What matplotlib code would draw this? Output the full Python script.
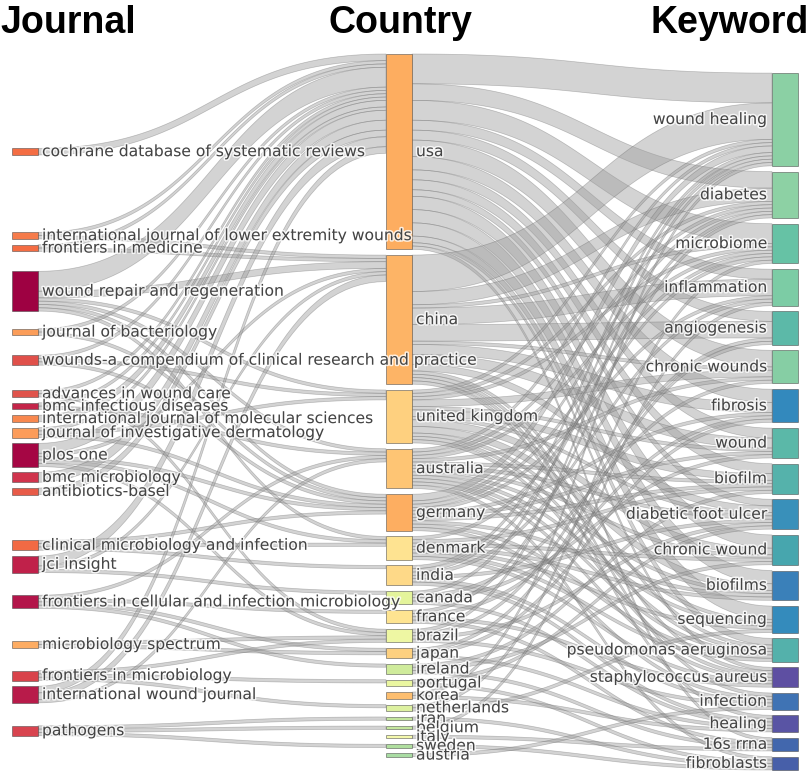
import numpy as np
import matplotlib.pyplot as plt
import matplotlib.patheffects as pe
from matplotlib.patches import Polygon, Rectangle

# ---- nodes ----
journals = [
    "cochrane database of systematic reviews",
    "international journal of lower extremity wounds",
    "frontiers in medicine",
    "wound repair and regeneration",
    "journal of bacteriology",
    "wounds-a compendium of clinical research and practice",
    "advances in wound care",
    "bmc infectious diseases",
    "international journal of molecular sciences",
    "journal of investigative dermatology",
    "plos one",
    "bmc microbiology",
    "antibiotics-basel",
    "clinical microbiology and infection",
    "jci insight",
    "frontiers in cellular and infection microbiology",
    "microbiology spectrum",
    "frontiers in microbiology",
    "international wound journal",
    "pathogens",
]
journal_colors = ["#f46d43", "#f67b4a", "#f46d43", "#9e0142", "#fb9d59", "#e0504a",
                  "#e0534b", "#c42549", "#f8884f", "#fc9c5a", "#a50644", "#d0344d",
                  "#e85b48", "#f26a44", "#c0214a", "#b3154a", "#fdac62", "#d9434b",
                  "#b81b4a", "#d8444f"]

countries = ["usa", "china", "united kingdom", "australia", "germany", "denmark",
             "india", "canada", "france", "brazil", "japan", "ireland", "portugal",
             "korea", "netherlands", "iran", "belgium", "italy", "sweden", "austria"]
country_colors = ["#fdad60", "#fdb466", "#fed07f", "#fec574", "#fdae61", "#fee391",
                  "#fed988", "#e4f49b", "#fee491", "#eef7a3", "#fdd07f", "#cfeb9b",
                  "#eaf6a0", "#fdbe6f", "#ddf1a0", "#c3e69d", "#c5e79e", "#f4f8ac",
                  "#b0df9f", "#a9dca3"]

keywords = ["wound healing", "diabetes", "microbiome", "inflammation", "angiogenesis",
            "chronic wounds", "fibrosis", "wound", "biofilm", "diabetic foot ulcer",
            "chronic wound", "biofilms", "sequencing", "pseudomonas aeruginosa",
            "staphylococcus aureus", "infection", "healing", "16s rrna", "fibroblasts"]
keyword_colors = ["#8bd0a4", "#8dd1a4", "#66c2a5", "#7ccca5", "#5cb9a8", "#86cea4",
                  "#3389bd", "#5bb8a8", "#55b2ab", "#3990ba", "#47a6ae", "#3a80b9",
                  "#348bbc", "#54b1ab", "#5e4fa2", "#3f73b4", "#5954a4", "#4267ad",
                  "#475fa9"]

# ---- links: journal -> country ----
journal_links = [
    ("cochrane database of systematic reviews", "usa", 2),
    ("international journal of lower extremity wounds", "usa", 1),
    ("international journal of lower extremity wounds", "china", 1),
    ("frontiers in medicine", "usa", 1),
    ("frontiers in medicine", "china", 1),
    ("wound repair and regeneration", "usa", 6),
    ("wound repair and regeneration", "china", 2),
    ("wound repair and regeneration", "united kingdom", 1),
    ("wound repair and regeneration", "australia", 1),
    ("wound repair and regeneration", "germany", 1),
    ("wound repair and regeneration", "denmark", 1),
    ("journal of bacteriology", "usa", 1),
    ("journal of bacteriology", "germany", 1),
    ("wounds-a compendium of clinical research and practice", "usa", 1),
    ("wounds-a compendium of clinical research and practice", "united kingdom", 1),
    ("wounds-a compendium of clinical research and practice", "germany", 1),
    ("advances in wound care", "usa", 1),
    ("advances in wound care", "brazil", 1),
    ("bmc infectious diseases", "usa", 1),
    ("bmc infectious diseases", "australia", 1),
    ("international journal of molecular sciences", "usa", 2),
    ("journal of investigative dermatology", "usa", 1),
    ("journal of investigative dermatology", "united kingdom", 1),
    ("journal of investigative dermatology", "germany", 1),
    ("plos one", "usa", 3),
    ("plos one", "china", 1),
    ("plos one", "germany", 1),
    ("plos one", "brazil", 1),
    ("plos one", "denmark", 1),
    ("bmc microbiology", "usa", 3),
    ("antibiotics-basel", "usa", 2),
    ("clinical microbiology and infection", "germany", 1),
    ("clinical microbiology and infection", "denmark", 1),
    ("clinical microbiology and infection", "india", 1),
    ("jci insight", "usa", 3),
    ("jci insight", "china", 1),
    ("jci insight", "canada", 1),
    ("frontiers in cellular and infection microbiology", "australia", 1),
    ("frontiers in cellular and infection microbiology", "france", 1),
    ("frontiers in cellular and infection microbiology", "japan", 1),
    ("frontiers in cellular and infection microbiology", "ireland", 1),
    ("microbiology spectrum", "brazil", 1),
    ("microbiology spectrum", "japan", 1),
    ("frontiers in microbiology", "brazil", 1),
    ("frontiers in microbiology", "portugal", 1),
    ("frontiers in microbiology", "netherlands", 1),
    ("international wound journal", "usa", 2),
    ("international wound journal", "china", 2),
    ("international wound journal", "australia", 1),
    ("pathogens", "iran", 1),
    ("pathogens", "belgium", 1),
    ("pathogens", "sweden", 1),
]

# ---- links: country -> keyword (rows follow countries, columns follow keywords) ----
keyword_flows = [
    [9, 5, 6, 3, 3, 5, 4, 3, 3, 2, 4, 4, 4, 2, 1, 0, 0, 1, 0],    # usa
    [11, 4, 1, 5, 5, 1, 3, 3, 0, 2, 0, 0, 0, 1, 1, 1, 1, 0, 0],   # china
    [1, 1, 1, 0, 0, 2, 0, 1, 2, 1, 2, 2, 1, 1, 1, 0, 0, 0, 0],    # united kingdom
    [1, 1, 1, 0, 0, 1, 0, 0, 1, 1, 1, 1, 1, 1, 1, 0, 0, 0, 1],    # australia
    [2, 1, 1, 1, 0, 0, 1, 1, 1, 0, 0, 1, 0, 1, 0, 1, 0, 0, 0],    # germany
    [0, 0, 1, 0, 0, 0, 0, 0, 1, 0, 1, 1, 1, 1, 1, 0, 0, 0, 0],    # denmark
    [1, 1, 0, 1, 0, 0, 0, 0, 0, 1, 0, 0, 0, 0, 0, 1, 1, 0, 0],    # india
    [1, 0, 0, 0, 0, 1, 0, 1, 0, 0, 0, 0, 0, 0, 0, 0, 1, 0, 0],    # canada
    [0, 1, 0, 0, 0, 0, 1, 0, 0, 0, 0, 0, 0, 0, 1, 0, 0, 1, 0],    # france
    [1, 0, 0, 0, 1, 0, 0, 0, 0, 1, 0, 0, 0, 0, 0, 1, 0, 0, 0],    # brazil
    [0, 0, 0, 0, 1, 0, 1, 0, 0, 0, 0, 0, 0, 0, 0, 0, 1, 0, 0],    # japan
    [0, 0, 0, 0, 0, 0, 0, 0, 1, 0, 1, 0, 0, 0, 0, 0, 0, 1, 0],    # ireland
    [0, 0, 0, 0, 0, 0, 0, 0, 0, 1, 0, 0, 0, 0, 0, 0, 0, 0, 1],    # portugal
    [1, 0, 0, 0, 0, 0, 0, 0, 0, 0, 0, 0, 0, 0, 0, 0, 1, 0, 0],    # korea
    [0, 0, 1, 0, 0, 0, 0, 0, 0, 0, 0, 0, 1, 0, 0, 0, 0, 0, 0],    # netherlands
    [0, 0, 0, 0, 0, 0, 0, 0, 0, 0, 0, 0, 0, 0, 0, 0, 0, 0, 1],    # iran
    [0, 0, 0, 1, 0, 0, 0, 0, 0, 0, 0, 0, 0, 0, 0, 0, 0, 0, 0],    # belgium
    [0, 0, 0, 0, 0, 0, 0, 0, 0, 0, 0, 0, 0, 0, 0, 0, 0, 1, 0],    # italy
    [0, 0, 0, 0, 0, 0, 0, 0, 0, 0, 0, 0, 0, 0, 0, 0, 0, 0, 1],    # sweden
    [0, 0, 0, 0, 0, 0, 0, 0, 0, 0, 0, 0, 0, 0, 0, 1, 0, 0, 0],    # austria
]

# ---- layout settings (pixels) ----
KY = 3.31          # pixels per unit of flow
PAD = 5.8          # gap between nodes in a column
TOP, BOTTOM = 54, 770
NODE_W = 26
COL_X = [12, 386, 772]

links1 = [(journals.index(j), countries.index(c), v) for j, c, v in journal_links]
links2 = [(ci, ki, v) for ci, row in enumerate(keyword_flows)
          for ki, v in enumerate(row) if v > 0]

nj, nc, nk = len(journals), len(countries), len(keywords)
j_val = np.zeros(nj); c_in = np.zeros(nc); c_out = np.zeros(nc); k_val = np.zeros(nk)
for a, b, v in links1:
    j_val[a] += v; c_in[b] += v
for a, b, v in links2:
    c_out[a] += v; k_val[b] += v

j_h = j_val * KY
c_h = np.maximum(c_in, c_out) * KY
k_h = k_val * KY

# middle column stacked from the top
c_y0 = TOP + np.concatenate([[0], np.cumsum(c_h[:-1] + PAD)])
c_mid = c_y0 + c_h / 2


def resolve(y0, h):
    y0 = np.array(y0, dtype=float)
    y = TOP
    for i in range(len(y0)):
        y0[i] = max(y0[i], y)
        y = y0[i] + h[i] + PAD
    if y0[-1] + h[-1] > BOTTOM:
        y0[-1] = BOTTOM - h[-1]
        for i in range(len(y0) - 2, -1, -1):
            y0[i] = min(y0[i], y0[i + 1] - PAD - h[i])
    return y0


def relax(n, links, other_mid, side, h):
    # outer columns: each node moves to the weighted mean of its partners
    num = np.zeros(n); den = np.zeros(n)
    for lk in links:
        node, other, v = (lk[0], lk[1], lk[2]) if side == 0 else (lk[1], lk[0], lk[2])
        num[node] += v * other_mid[other]
        den[node] += v
    return resolve(num / den - h / 2, h)


j_y0 = relax(nj, links1, c_mid, 0, j_h)
k_y0 = relax(nk, links2, c_mid, 1, k_h)


def link_ends(links, ya0, yb0):
    s = np.zeros(len(links)); t = np.zeros(len(links))
    off_a, off_b = {}, {}
    for i in sorted(range(len(links)), key=lambda i: (links[i][0], links[i][1])):
        a, b, v = links[i]
        s[i] = ya0[a] + off_a.get(a, 0)
        off_a[a] = off_a.get(a, 0) + v * KY
    for i in sorted(range(len(links)), key=lambda i: (links[i][1], links[i][0])):
        a, b, v = links[i]
        t[i] = yb0[b] + off_b.get(b, 0)
        off_b[b] = off_b.get(b, 0) + v * KY
    return s, t


fig = plt.figure(figsize=(8.1, 7.71), dpi=100)
ax = fig.add_axes([0, 0, 1, 1])
ax.set_xlim(0, 810)
ax.set_ylim(771, 0)
ax.axis("off")

tt = np.linspace(0, 1, 60)
ease = 3 * tt ** 2 - 2 * tt ** 3


def draw_links(links, ya0, yb0, x0, x1):
    s, t = link_ends(links, ya0, yb0)
    xm = (x0 + x1) / 2
    bx = (1 - tt) ** 3 * x0 + 3 * (1 - tt) ** 2 * tt * xm + 3 * (1 - tt) * tt ** 2 * xm + tt ** 3 * x1
    for (a, b, v), ys, yt in zip(links, s, t):
        w = v * KY
        top = ys + (yt - ys) * ease
        pts = np.column_stack([np.r_[bx, bx[::-1]], np.r_[top, (top + w)[::-1]]])
        ax.add_patch(Polygon(pts, closed=True, facecolor=(0.62, 0.62, 0.62, 0.45),
                             edgecolor=(0.35, 0.35, 0.35, 0.35), linewidth=0.5))


draw_links(links1, j_y0, c_y0, COL_X[0] + NODE_W, COL_X[1])
draw_links(links2, c_y0, k_y0, COL_X[1] + NODE_W, COL_X[2])

halo = [pe.withStroke(linewidth=2.2, foreground="white", alpha=0.8)]


def draw_nodes(names, colors, y0, h, x, label_x, ha):
    for name, col, y, hh in zip(names, colors, y0, h):
        ax.add_patch(Rectangle((x, y), NODE_W, hh, facecolor=col,
                               edgecolor=(0.27, 0.27, 0.27, 0.6), linewidth=0.6))
        ax.text(label_x, y + hh / 2, name, ha=ha, va="center", fontsize=11.2,
                color="#444444", path_effects=halo)


draw_nodes(journals, journal_colors, j_y0, j_h, COL_X[0], COL_X[0] + NODE_W + 4, "left")
draw_nodes(countries, country_colors, c_y0, c_h, COL_X[1], COL_X[1] + NODE_W + 4, "left")
draw_nodes(keywords, keyword_colors, k_y0, k_h, COL_X[2], COL_X[2] - 5, "right")

title_kw = dict(fontsize=27, fontweight="bold", family="Liberation Sans", color="black",
                va="baseline")
ax.text(0, 33, "Journal", ha="left", **title_kw)
ax.text(400, 33, "Country", ha="center", **title_kw)
ax.text(809, 33, "Keyword", ha="right", **title_kw)

fig.savefig("out.png", dpi=100)
